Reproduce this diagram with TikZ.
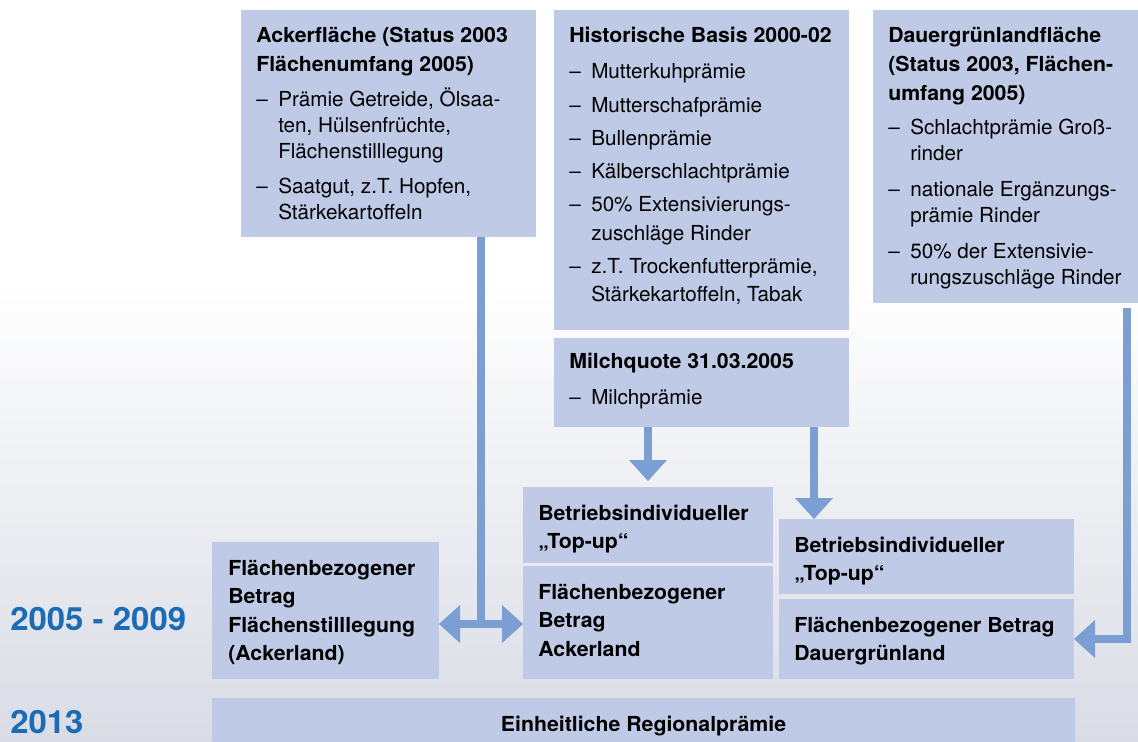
\documentclass[tikz,border=0pt]{standalone}
\usepackage{fontspec}
\setmainfont{TeX Gyre Heros}[BoldFeatures={FakeStretch=1.03}]
\usetikzlibrary{arrows.meta,fit}
\definecolor{boxc}{HTML}{BECAE6}
\definecolor{arrc}{HTML}{7C9FD3}
\definecolor{yearc}{HTML}{1B6CB4}
\definecolor{bgb}{HTML}{D9DCE5}
\newcommand\fl{\rule{0pt}{15pt}}
\newcommand\bi{\makebox[16.5pt][l]{–}}
\newcommand\ci{\makebox[16.5pt][l]{}}
\begin{document}
\begin{tikzpicture}[x=0.75pt,y=-0.75pt,
  box/.style={fill=boxc,draw=none,inner sep=0pt,outer sep=0pt},
  txt/.style={inner sep=0pt,anchor=north west,align=left,font=\fontsize{15.5pt}{21.4pt}\selectfont},
  tighttxt/.style={txt,font=\fontsize{15.5pt}{19.5pt}\selectfont},
  btxt/.style={txt,font=\fontsize{15.5pt}{21.4pt}\selectfont\bfseries},
  yearlbl/.style={inner sep=0pt,anchor=base west,text=yearc,font=\fontsize{24pt}{28pt}\selectfont\bfseries},
  ln/.style={draw=arrc,line width=6pt},
  arr/.style={ln,-{Triangle[length=15.75pt,width=28.5pt,line width=0pt]}}]
\useasboundingbox (0,0) rectangle (1138,742);
\fill[white] (0,0) rectangle (1138,742);
\shade[top color=white,bottom color=bgb] (0,280) rectangle (1138,742);

% boxes
\node[box,fit={(241,10)(536,237)}] (A) {};
\node[box,fit={(554,10)(849,330)}] (H) {};
\node[box,fit={(554,338)(849,427)}] (M) {};
\node[box,fit={(873,10)(1138,303)}] (D) {};
\node[box,fit={(212,542)(439,679)}] (FS) {};
\node[box,fit={(523,487)(773,563)}] (T1) {};
\node[box,fit={(523,566)(773,679)}] (FA) {};
\node[box,fit={(779,519)(1074,594)}] (T2) {};
\node[box,fit={(779,599)(1074,679)}] (FD) {};
\node[box,fit={(212,698)(1075,742)}] (E) {};

% texts
\node[tighttxt] (At) at (256,22) {\fl\textbf{Ackerfläche (Status 2003}\\[2.25pt]
  \textbf{Flächenumfang 2005)}\\[6.75pt]
  \bi Prämie Getreide, Ölsaa-\\
  \ci ten, Hülsenfrüchte,\\
  \ci Flächenstilllegung\\[6.75pt]
  \bi Saatgut, z.T. Hopfen,\\
  \ci Stärkekartoffeln};
\node[txt] (Ht) at (569,22) {\fl\textbf{Historische Basis 2000-02}\\[6pt]
  \bi Mutterkuhprämie\\[3.5pt]
  \bi Mutterschafprämie\\[3.5pt]
  \bi Bullenprämie\\[3.5pt]
  \bi Kälberschlachtprämie\\[3.5pt]
  \bi 50\% Extensivierungs-\\
  \ci zuschläge Rinder\\[3.5pt]
  \bi z.T. Trockenfutterprämie,\\
  \ci Stärkekartoffeln, Tabak};
\node[txt] (Mt) at (569,348) {\fl\textbf{Milchquote 31.03.2005}\\[5.6pt]
  \bi Milchprämie};
\node[tighttxt] (Dt) at (888,22) {\fl\textbf{Dauergrünlandfläche}\\[2.25pt]
  \textbf{(Status 2003, Flächen-}\\[2.25pt]
  \textbf{umfang 2005)}\\[6pt]
  \bi Schlachtprämie Groß-\\
  \ci rinder\\[7.5pt]
  \bi nationale Ergänzungs-\\
  \ci prämie Rinder\\[7.5pt]
  \bi 50\% der Extensivie-\\
  \ci rungszuschläge Rinder};
\node[btxt] (FSt) at (228,555) {\fl Flächenbezogener\\Betrag\\Flächenstilllegung\\(Ackerland)};
\node[btxt] (T1t) at (538,500) {\fl Betriebsindividueller\\„Top-up“};
\node[btxt] (FAt) at (538,579) {\fl Flächenbezogener\\Betrag\\Ackerland};
\node[btxt] (T2t) at (794,532) {\fl Betriebsindividueller\\„Top-up“};
\node[btxt] (FDt) at (794,612) {\fl Flächenbezogener Betrag\\Dauergrünland};
\node[inner sep=0pt,anchor=base,font=\fontsize{15.5pt}{21.4pt}\selectfont\bfseries] (Et) at (643.5,731) {Einheitliche Regionalprämie};

% years
\node[yearlbl] (Y1) at (10,630) {2005 - 2009};
\node[yearlbl] (Y2) at (10,733) {2013};

% connectors
\draw[ln] (481,0 |- A.south) -- (481,624) coordinate (J);
\draw[arr] (J) -- (FS.east |- J);
\draw[arr] (J) -- (FA.west |- J);
\draw[arr,shorten >=4.5pt] (648,0 |- M.south) -- (648,0 |- T1.north);
\draw[arr] (814,0 |- M.south) -- (814,0 |- T2.north);
\draw[arr,shorten <=3.75pt] (1127,0 |- D.south) |- (FD.east);
\end{tikzpicture}
\end{document}
